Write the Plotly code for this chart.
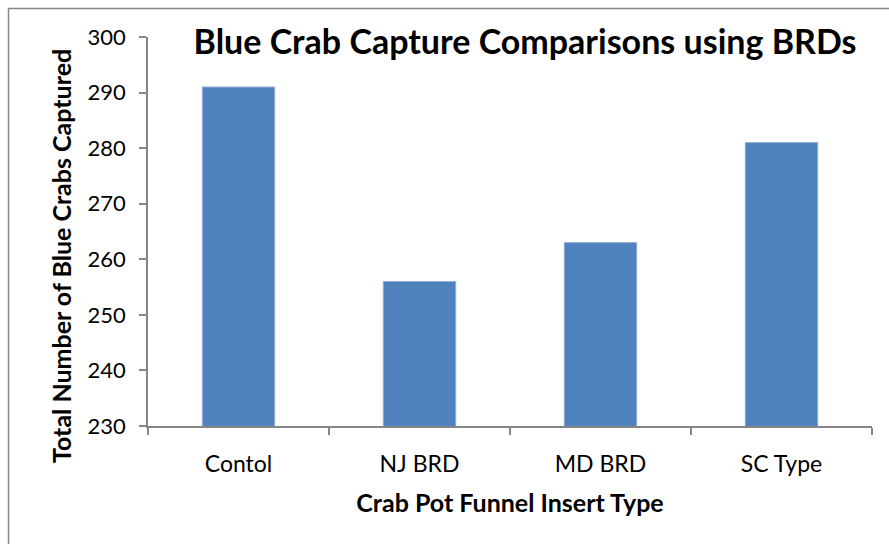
import plotly.graph_objects as go

categories = ["Contol", "NJ BRD", "MD BRD", "SC Type"]
crabs_captured = [291, 256, 263, 281]
y_ticks = [230, 240, 250, 260, 270, 280, 290, 300]

W, H = 889, 544
L, R, T, B = 148, 872, 37, 426

fig = go.Figure(go.Bar(
    x=categories, y=crabs_captured,
    marker=dict(color="#4F81BD", line=dict(color="#8FB0D8", width=1)),
    width=0.4,
))

def px(xp):
    return (xp - L) / (R - L)

def py(yp):
    return (B - yp) / (B - T)

fig.add_shape(type="rect", xref="paper", yref="paper",
              x0=px(8.5), x1=px(900), y0=py(560), y1=py(8.5),
              line=dict(color="#868686", width=1.5), fillcolor="rgba(0,0,0,0)", layer="below")

fig.add_annotation(text="<b>Total Number of Blue Crabs Captured</b>",
                   xref="paper", yref="paper", x=px(61), y=py(256),
                   xanchor="center", yanchor="middle", textangle=-90,
                   showarrow=False, font=dict(size=25, color="black"))

fig.update_layout(
    width=W, height=H,
    margin=dict(l=L, r=W - R, t=T, b=H - B, pad=0),
    plot_bgcolor="white", paper_bgcolor="white",
    font=dict(family="Lato, 'Open Sans', sans-serif", size=22, color="black"),
    showlegend=False,
    bargap=0.6,
    title=dict(text="<b>Blue Crab Capture Comparisons using BRDs</b>",
               x=px(525), xref="paper", xanchor="center",
               y=1 - 42 / H, yref="container", yanchor="middle",
               font=dict(size=34, color="black")),
    xaxis=dict(
        showline=True, linecolor="#868686", linewidth=1.5,
        ticks="outside", tickson="boundaries", ticklen=7, tickcolor="#868686", tickwidth=1.5,
        showgrid=False, tickfont=dict(size=23), ticklabelstandoff=17,
        title=dict(text="<b>Crab Pot Funnel Insert Type</b>", font=dict(size=25), standoff=18),
    ),
    yaxis=dict(
        range=[230, 300], tickvals=y_ticks,
        showline=True, linecolor="#868686", linewidth=1.5,
        ticks="outside", ticklen=7, tickcolor="#868686", tickwidth=1.5,
        showgrid=False, zeroline=False, tickfont=dict(size=22), ticklabelstandoff=9,
    ),
)

fig.write_html("out.html")
